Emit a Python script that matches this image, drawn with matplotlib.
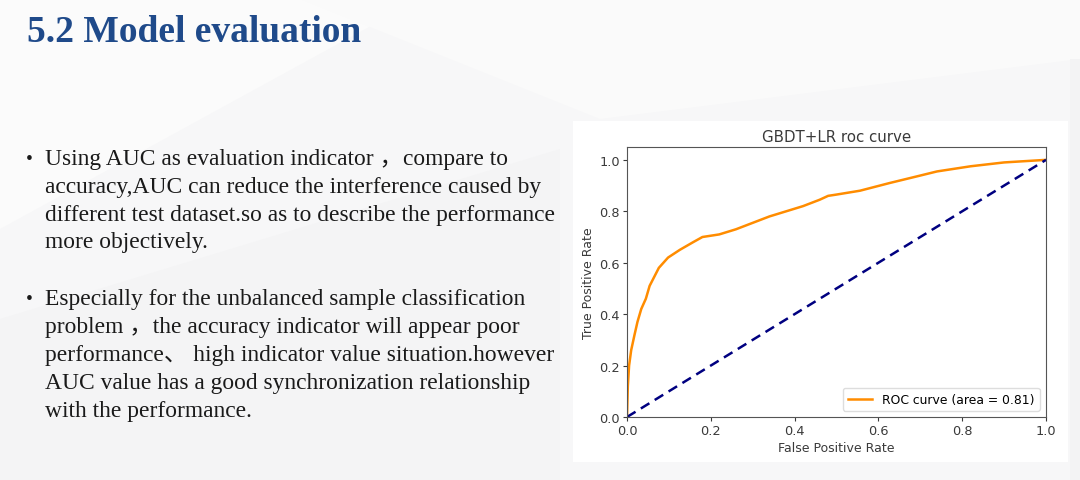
import matplotlib.pyplot as plt
from matplotlib.patches import Rectangle, Polygon

# ROC curve
fpr = [0.0, 0.002, 0.005, 0.010, 0.018, 0.025, 0.034, 0.045, 0.054, 0.065, 0.076, 0.087, 0.098,
       0.126, 0.158, 0.18, 0.22, 0.26, 0.34, 0.42, 0.46, 0.48, 0.50, 0.556, 0.627, 0.69, 0.74,
       0.82, 0.90, 1.0]
tpr = [0.0, 0.12, 0.20, 0.26, 0.32, 0.37, 0.42, 0.46, 0.51, 0.545, 0.58, 0.60, 0.62,
       0.65, 0.68, 0.70, 0.71, 0.73, 0.78, 0.82, 0.845, 0.86, 0.865, 0.88, 0.91, 0.935, 0.955,
       0.975, 0.99, 1.0]
roc_auc = 0.81

title = "5.2 Model evaluation"
bullet1 = ["Using AUC as evaluation indicator \uff0ccompare to",
           "accuracy,AUC can reduce the interference caused by",
           "different test dataset.so as to describe the performance",
           "more objectively."]
bullet2 = ["Especially for the unbalanced sample classification",
           "problem \uff0cthe accuracy indicator will appear poor",
           "performance\u3001 high indicator value situation.however",
           "AUC value has a good synchronization relationship",
           "with the performance."]

W, H = 1080, 481
fig = plt.figure(figsize=(W / 100, H / 100), dpi=100)
fig.patch.set_facecolor('#f7f7f8')

# faint background facets of the slide
bg = fig.add_axes([0, 0, 1, 1])
bg.set_xlim(0, W)
bg.set_ylim(H, 0)
bg.axis('off')
bg.add_patch(Polygon([[0, 0], [420, 0], [0, 230]], closed=True, color='#fbfbfb', lw=0))
bg.add_patch(Polygon([[300, 0], [1080, 0], [1080, 60], [600, 120]], closed=True, color='#fafafa', lw=0))
bg.add_patch(Polygon([[0, 320], [560, 150], [560, 481], [0, 481]], closed=True, color='#f4f4f5', lw=0))
bg.add_patch(Polygon([[1070, 60], [1080, 60], [1080, 481], [1070, 481]], closed=True, color='#f3f3f4', lw=0))
# white panel behind the chart
bg.add_patch(Rectangle((573, 122), 495, 341, color='white', lw=0))

serif = ['Liberation Serif', 'Noto Sans CJK SC']
fig.text(27 / W, 1 - 33 / H, title, family=serif, fontsize=27, fontweight='bold',
         color='#1f4a8a', va='center')

y = 159
for block in (bullet1, bullet2):
    fig.text(26 / W, 1 - y / H, "\u2022", family=serif, fontsize=14, color='#1a1a1a', va='center')
    for line in block:
        fig.text(45 / W, 1 - y / H, line, family=serif, fontsize=16.9, color='#1a1a1a', va='center')
        y += 28
    y += 29

ax = fig.add_axes([627 / W, 1 - 418 / H, 419 / W, 270 / H])
ax.plot(fpr, tpr, color='darkorange', lw=1.8, label='ROC curve (area = %0.2f)' % roc_auc)
ax.plot([0, 1], [0, 1], color='navy', lw=1.8, linestyle='--', dashes=(4, 2.5))
ax.set_xlim(0.0, 1.0)
ax.set_ylim(0.0, 1.05)
ax.set_xticks([0, 0.2, 0.4, 0.6, 0.8, 1.0])
ax.set_yticks([0, 0.2, 0.4, 0.6, 0.8, 1.0])
ax.tick_params(labelsize=9.3, colors='#3a3a3a', length=3, pad=2)
ax.set_xlabel('False Positive Rate', fontsize=9, color='#3a3a3a', labelpad=3)
ax.set_ylabel('True Positive Rate', fontsize=9, color='#3a3a3a', labelpad=3)
ax.set_title('GBDT+LR roc curve', fontsize=10.8, color='#3a3a3a', pad=4)
for s in ax.spines.values():
    s.set_color('#555555')
ax.legend(loc='lower right', fontsize=8.9, framealpha=1, edgecolor='#dddddd',
          borderpad=0.4, handlelength=2.0)

fig.savefig('out.png', dpi=100, facecolor=fig.get_facecolor())
